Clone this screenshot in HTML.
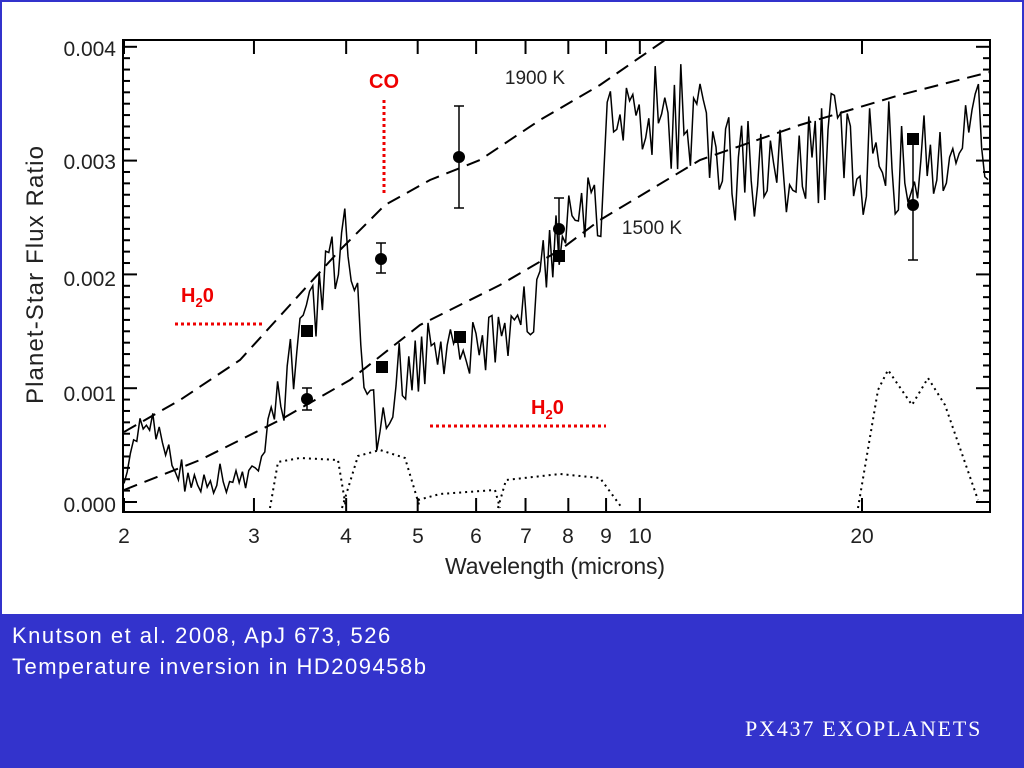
<!DOCTYPE html>
<html><head><meta charset="utf-8"><style>
body{margin:0;width:1024px;height:768px;overflow:hidden;background:#fff;font-family:"Liberation Sans",sans-serif}
#top{position:absolute;left:0;top:0;width:1020px;height:612px;border:2px solid #3333cc;border-bottom:none}
#foot{position:absolute;left:0;top:614px;width:1024px;height:154px;background:#3333cc;color:#fff}
</style></head><body>
<div id="top"></div>
<svg width="1024" height="614" style="position:absolute;left:0;top:0" font-family="Liberation Sans, sans-serif">
<g id="ax" stroke="#000" stroke-width="2" fill="none"><rect x="123" y="40" width="867" height="472"/></g>
<g font-size="21" fill="#222" text-anchor="end">
<text x="116" y="56">0.004</text><text x="116" y="169">0.003</text><text x="116" y="286">0.002</text><text x="116" y="401">0.001</text><text x="116" y="512">0.000</text></g>
<g font-size="21" fill="#222" text-anchor="middle">
<text x="124" y="543">2</text><text x="254" y="543">3</text><text x="346" y="543">4</text><text x="418" y="543">5</text><text x="476" y="543">6</text><text x="526" y="543">7</text><text x="568" y="543">8</text><text x="606" y="543">9</text><text x="640" y="543">10</text><text x="862" y="543">20</text>
<text x="555" y="574" font-size="23" textLength="220">Wavelength (microns)</text>
<text transform="translate(43,275) rotate(-90)" font-size="24" textLength="258">Planet-Star Flux Ratio</text>
<text x="535" y="84" font-size="19">1900 K</text><text x="652" y="234" font-size="19">1500 K</text></g>
<g fill="none" stroke="#000" stroke-width="2" stroke-dasharray="14,8">
<polyline points="124,490 200,460 280,420 350,380 420,325 500,285 560,250 600,220 700,160 800,125 900,95 990,72"/>
<polyline points="124,432 180,400 240,360 290,305 340,250 385,205 430,180 480,160 540,120 600,85 665,40"/>
</g>
<g fill="none" stroke="#000" stroke-width="2" stroke-dasharray="2,4">
<polyline points="270,508 278,462 300,458 338,460 346,508"/>
<polyline points="342,508 358,456 380,450 405,458 420,508"/>
<polyline points="418,500 440,494 495,490 500,508"/>
<polyline points="498,508 506,480 560,474 600,478 622,508"/>
<polyline points="858,508 878,390 888,370 912,405 928,378 945,405 978,500"/>
</g>
<g fill="none" stroke="#000" stroke-width="1.5" id="sp"></g>
<g stroke="#000" stroke-width="1.5">
<line x1="307" y1="388" x2="307" y2="410"/><line x1="381" y1="243" x2="381" y2="273"/><line x1="459" y1="106" x2="459" y2="208"/><line x1="559" y1="198" x2="559" y2="260"/><line x1="913" y1="140" x2="913" y2="260"/>
<line x1="302" y1="388" x2="312" y2="388"/><line x1="302" y1="410" x2="312" y2="410"/><line x1="376" y1="243" x2="386" y2="243"/><line x1="376" y1="273" x2="386" y2="273"/><line x1="454" y1="106" x2="464" y2="106"/><line x1="454" y1="208" x2="464" y2="208"/><line x1="554" y1="198" x2="564" y2="198"/><line x1="908" y1="260" x2="918" y2="260"/>
</g>
<g fill="#000"><circle cx="307" cy="399" r="6"/><circle cx="381" cy="259" r="6"/><circle cx="459" cy="157" r="6"/><circle cx="559" cy="229" r="6"/><circle cx="913" cy="205" r="6"/>
<rect x="301" y="325" width="12" height="12"/><rect x="376" y="361" width="12" height="12"/><rect x="454" y="331" width="12" height="12"/><rect x="553" y="250" width="12" height="12"/><rect x="907" y="133" width="12" height="12"/></g>
<g stroke="#e00" stroke-width="3" stroke-dasharray="3,3">
<line x1="384" y1="100" x2="384" y2="196"/><line x1="175" y1="324" x2="264" y2="324"/><line x1="430" y1="426" x2="606" y2="426"/></g>
<g fill="#e00" font-weight="bold" font-size="20">
<text x="369" y="88">CO</text><text x="181" y="302">H<tspan font-size="13" dy="5">2</tspan><tspan dy="-5">0</tspan></text>
<text x="531" y="414">H<tspan font-size="13" dy="5">2</tspan><tspan dy="-5">0</tspan></text></g>
</svg>
<div id="foot">
<div style="position:absolute;left:12px;top:6px;font-size:22px;line-height:31px;letter-spacing:1.5px">Knutson et al. 2008, ApJ 673, 526<br>Temperature inversion in HD209458b</div>
<div style="position:absolute;left:745px;top:102px;font-size:22px;letter-spacing:1.8px;font-family:'Liberation Serif',serif">PX437 EXOPLANETS</div>
</div>
<script>
var NS="http://www.w3.org/2000/svg";
function L(g,x1,y1,x2,y2){var l=document.createElementNS(NS,"line");l.setAttribute("x1",x1);l.setAttribute("y1",y1);l.setAttribute("x2",x2);l.setAttribute("y2",y2);g.appendChild(l);}
var ax=document.getElementById("ax");
for(var i=0;i<=40;i++){var y=502-i*11.38;var len=(i%10==0)?14:7;L(ax,123,y,123+len,y);L(ax,990,y,990-len,y);}
[2,3,4,5,6,7,8,9,10,20].forEach(function(v){var x=124+(Math.log10(v)-0.30103)*738;L(ax,x,512,x,498);L(ax,x,40,x,54);});
var base=[[124,485],[140,430],[150,415],[165,440],[185,478],[260,478],[280,400],[300,340],[330,270],[347,235],[360,330],[375,420],[395,380],[430,355],[470,350],[520,330],[560,235],[600,200],[615,120],[640,90],[700,140],[760,175],[820,150],[860,160],[990,140]];
function b(x){for(var i=0;i<base.length-1;i++){if(x<=base[i+1][0]){var t=(x-base[i][0])/(base[i+1][0]-base[i][0]);return base[i][1]+t*(base[i+1][1]-base[i][1]);}}return 140;}
function r(i){var v=Math.sin(i*12.9898+3.1)*43758.5453;return v-Math.floor(v)-0.5;}
var pts=[],k=0;
for(var x=124;x<=990;x+=3.2){k++;var a=x<260?30:(x<600?70:120);var y=b(x)+r(k)*a;if(y<40)y=40;if(y>505)y=505;pts.push(x.toFixed(1)+","+y.toFixed(1));}
var p=document.createElementNS(NS,"polyline");p.setAttribute("points",pts.join(" "));document.getElementById("sp").appendChild(p);
</script>
</body></html>
